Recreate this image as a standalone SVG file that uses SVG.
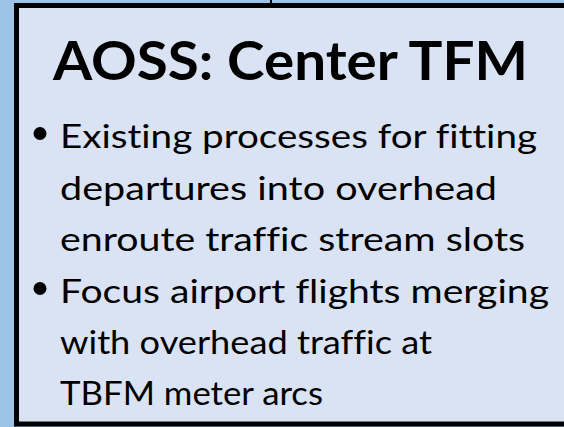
<svg xmlns="http://www.w3.org/2000/svg" width="564" height="427" viewBox="0 0 564 427">
  <style>
    .panel { fill: #DAE3F3; stroke: #000000; stroke-width: 5; }
    .title { font-family: Lato, "Open Sans", "Liberation Sans", sans-serif; font-weight: bold; font-size: 53px; fill: #000000; }
    .body { font-family: Lato, "Open Sans", "Liberation Sans", sans-serif; font-size: 33.5px; fill: #000000; font-variant-ligatures: none; }
    .bullet { fill: #000000; }
    .link { stroke: #000000; stroke-width: 2; fill: none; }
  </style>

  <!-- page background -->
  <rect x="0" y="0" width="564" height="427" fill="#9DC3E6"/>

  <!-- incoming connector stub at the top edge -->
  <g id="connectors">
    <line class="link" x1="271" y1="0" x2="271" y2="4"/>
  </g>

  <!-- AOSS Center TFM panel -->
  <g id="aoss-center-tfm">
    <rect class="panel" x="16.5" y="5.5" width="560" height="418.5"/>
    <text class="title" x="53" y="80" textLength="475" lengthAdjust="spacingAndGlyphs">AOSS: Center TFM</text>

    <circle class="bullet" cx="40" cy="133.5" r="6.5"/>
    <text class="body" x="60" y="148" textLength="477" lengthAdjust="spacingAndGlyphs">Existing processes for fitting</text>
    <text class="body" x="60" y="199.5" textLength="437" lengthAdjust="spacingAndGlyphs">departures into overhead</text>
    <text class="body" x="60" y="251" textLength="465" lengthAdjust="spacingAndGlyphs">enroute traffic stream slots</text>

    <circle class="bullet" cx="40" cy="288.5" r="6.5"/>
    <text class="body" x="60" y="302.5" textLength="489" lengthAdjust="spacingAndGlyphs">Focus airport flights merging</text>
    <text class="body" x="60" y="354" textLength="372" lengthAdjust="spacingAndGlyphs">with overhead traffic at</text>
    <text class="body" x="60" y="405" textLength="263" lengthAdjust="spacingAndGlyphs">TBFM meter arcs</text>
  </g>
</svg>
